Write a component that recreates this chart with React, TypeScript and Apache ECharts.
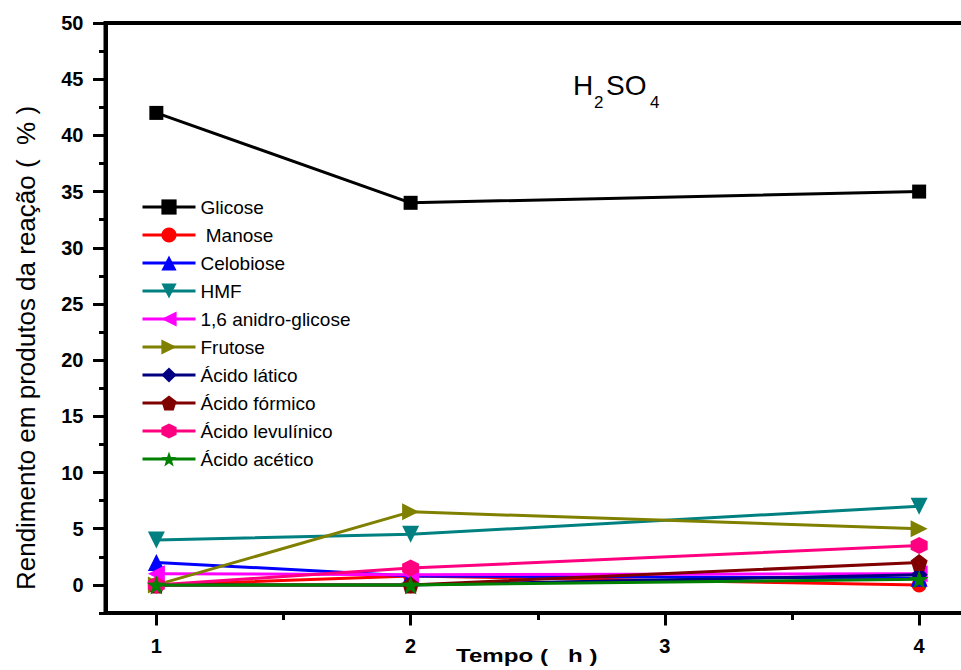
import React, { useEffect, useRef } from "react";
import * as echarts from "echarts";

const times = [1, 2, 4];
const glicose = [42, 34, 35];
const manose = [0, 0.8, 0];
const celobiose = [2, 0.8, 0.6];
const hmf = [4, 4.5, 7];
const anidroGlicose = [1.0, 0.9, 1.0];
const frutose = [0, 6.5, 5];
const acidoLatico = [0, 0, 0.9];
const acidoFormico = [0, 0, 2];
const acidoLevulinico = [0, 1.5, 3.5];
const acidoAcetico = [0, 0, 0.5];

const xMajorTicks = [1, 2, 3, 4];
const xMinorTicks = [1.5, 2.5, 3.5];
const yMajorTicks = [0, 5, 10, 15, 20, 25, 30, 35, 40, 45, 50];
const yMinorTicks = [-2.5, 2.5, 7.5, 12.5, 17.5, 22.5, 27.5, 32.5, 37.5, 42.5, 47.5];

const seriesNames = [
  "Glicose",
  " Manose",
  "Celobiose",
  "HMF",
  "1,6 anidro-glicose",
  "Frutose",
  "Ácido lático",
  "Ácido fórmico",
  "Ácido levulínico",
  "Ácido acético",
];
const seriesValues = [
  glicose,
  manose,
  celobiose,
  hmf,
  anidroGlicose,
  frutose,
  acidoLatico,
  acidoFormico,
  acidoLevulinico,
  acidoAcetico,
];
const seriesColors = [
  "#000000",
  "#ff0000",
  "#0000ff",
  "#008080",
  "#ff00ff",
  "#808000",
  "#000080",
  "#800000",
  "#ff0080",
  "#008000",
];

const PENTAGON = "path://M0,-10 L9.51,-3.09 L5.88,8.09 L-5.88,8.09 L-9.51,-3.09 Z";
const HEXAGON = "path://M0,-10 L8.66,-5 L8.66,5 L0,10 L-8.66,5 L-8.66,-5 Z";
const STAR =
  "path://M0,-10 L2.35,-3.24 L9.51,-3.09 L3.8,1.24 L5.88,8.09 L0,4 L-5.88,8.09 L-3.8,1.24 L-9.51,-3.09 L-2.35,-3.24 Z";

const seriesSymbols = ["rect", "circle", "triangle", "triangle", "triangle", "triangle", "diamond", PENTAGON, HEXAGON, STAR];
const seriesRotate = [0, 0, 0, 180, 90, -90, 0, 0, 0, 0];
const seriesSymbolSize = [14, 15, 17, 17, 17, 17, 17, 17, 17, 19];

const FONT = "'Liberation Sans', Arial, Helvetica, sans-serif";

export default function App() {
  const ref = useRef<HTMLDivElement>(null);

  useEffect(() => {
    if (!ref.current) return;
    const chart = echarts.init(ref.current, undefined, { renderer: "svg" });

    const series = seriesNames.map((name, i) => ({
      name,
      type: "line",
      xAxisIndex: 0,
      yAxisIndex: 0,
      data: times.map((t, j) => [t, seriesValues[i][j]]),
      symbol: seriesSymbols[i],
      symbolRotate: seriesRotate[i],
      symbolSize: seriesSymbolSize[i],
      showAllSymbol: true,
      lineStyle: { color: seriesColors[i], width: 3 },
      itemStyle: { color: seriesColors[i], borderWidth: 0 },
      emphasis: { disabled: true },
      z: 2 + i,
    }));

    chart.setOption({
      animation: false,
      backgroundColor: "#ffffff",
      textStyle: { fontFamily: FONT },
      grid: {
        left: 105.5,
        top: 23,
        bottom: 57,
        right: -9,
        containLabel: false,
        outerBoundsMode: "none",
        show: true,
        borderColor: "#000",
        borderWidth: 4,
        backgroundColor: "transparent",
      },
      legend: {
        orient: "vertical",
        left: 141,
        top: 197.5,
        padding: 0,
        itemWidth: 53,
        itemHeight: 19,
        itemGap: 9,
        lineStyle: { width: 3 },
        textStyle: { fontSize: 19, color: "#000", fontFamily: FONT },
        data: seriesNames,
        selectedMode: false,
      },
      xAxis: [
        {
          type: "value",
          min: 0.8,
          max: 4.2,
          position: "bottom",
          axisLine: { show: true, onZero: false, lineStyle: { color: "#000", width: 4 } },
          axisTick: {
            show: true,
            inside: false,
            length: 12.5,
            lineStyle: { color: "#000", width: 3 },
            customValues: xMajorTicks,
          },
          axisLabel: {
            show: true,
            margin: 23,
            fontSize: 20,
            fontWeight: "bold",
            color: "#000",
            fontFamily: FONT,
            customValues: xMajorTicks,
          },
          splitLine: { show: false },
        },
        {
          type: "value",
          min: 0.8,
          max: 4.2,
          position: "bottom",
          axisLine: { show: false, onZero: false },
          axisTick: {
            show: true,
            inside: false,
            length: 7,
            lineStyle: { color: "#000", width: 3 },
            customValues: xMinorTicks,
          },
          axisLabel: { show: false },
          splitLine: { show: false },
        },
      ],
      yAxis: [
        {
          type: "value",
          min: -2.5,
          max: 50,
          position: "left",
          axisLine: { show: true, onZero: false, lineStyle: { color: "#000", width: 4 } },
          axisTick: {
            show: true,
            inside: false,
            length: 12.5,
            lineStyle: { color: "#000", width: 3 },
            customValues: yMajorTicks,
          },
          axisLabel: {
            show: true,
            margin: 22,
            fontSize: 20,
            fontWeight: "bold",
            color: "#000",
            fontFamily: FONT,
            customValues: yMajorTicks,
          },
          splitLine: { show: false },
        },
        {
          type: "value",
          min: -2.5,
          max: 50,
          position: "left",
          offset: 0,
          axisLine: { show: false, onZero: false },
          axisTick: {
            show: true,
            inside: false,
            length: 6.5,
            lineStyle: { color: "#000", width: 3 },
            customValues: yMinorTicks,
          },
          axisLabel: { show: false },
          splitLine: { show: false },
        },
      ],
      graphic: [
        {
          type: "text",
          x: 456,
          y: 655,
          scaleX: 1.27,
          style: {
            text: "Tempo (   h )",
            fontSize: 19,
            fontWeight: "bold",
            fontFamily: FONT,
            fill: "#000",
            align: "left",
            verticalAlign: "middle",
          },
        },
        {
          type: "text",
          x: 26,
          y: 348,
          rotation: Math.PI / 2,
          style: {
            text: "Rendimento em produtos da reação (  % )",
            fontSize: 26,
            fontFamily: FONT,
            fill: "#000",
            align: "center",
            verticalAlign: "middle",
          },
        },
        {
          type: "text",
          x: 573,
          y: 85,
          style: { text: "H", fontSize: 28, fontFamily: FONT, fill: "#000", align: "left", verticalAlign: "middle" },
        },
        {
          type: "text",
          x: 594,
          y: 102,
          style: { text: "2", fontSize: 17, fontFamily: FONT, fill: "#000", align: "left", verticalAlign: "middle" },
        },
        {
          type: "text",
          x: 606,
          y: 85,
          style: { text: "SO", fontSize: 28, fontFamily: FONT, fill: "#000", align: "left", verticalAlign: "middle" },
        },
        {
          type: "text",
          x: 650,
          y: 102,
          style: { text: "4", fontSize: 17, fontFamily: FONT, fill: "#000", align: "left", verticalAlign: "middle" },
        },
      ],
      series,
    });

    return () => {
      chart.dispose();
    };
  }, []);

  return (
    <div
      ref={ref}
      style={{ position: "absolute", left: 0, top: 0, width: 961, height: 670, background: "#fff" }}
    />
  );
}
